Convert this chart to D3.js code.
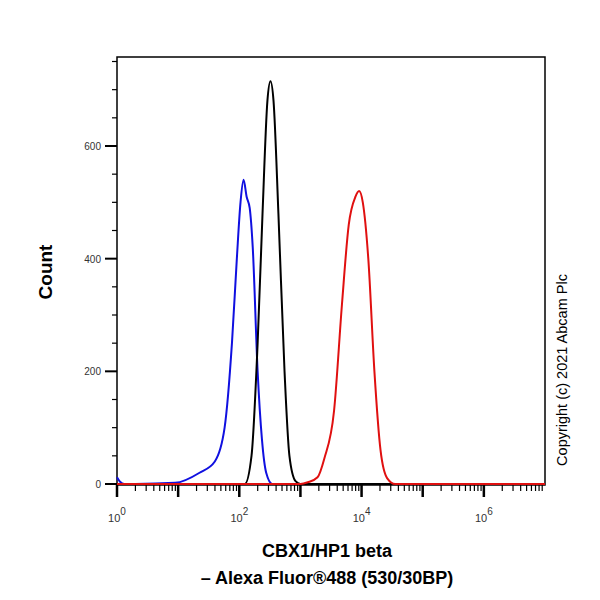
<!DOCTYPE html><html><head><meta charset="utf-8">
<script src="https://cdn.jsdelivr.net/npm/d3@7"></script>
<style>body{margin:0;background:#fff}</style></head><body><svg id="c" width="600" height="600"></svg>
<script>
const yTicks=[0,200,400,600];
const xTickExps=[0,2,4,6];
const blueLog=[0,0.05,0.12,0.3,0.95,1.35,1.6,1.76,1.88,1.96,2.02,2.07,2.12,2.17,2.22,2.3,2.37,2.44,2.54,7];
const blueVal=[12,4,0,0,2,20,40,100,250,400,500,540,510,490,420,200,80,20,0,0];
const blackLog=[0,2.09,2.2,2.3,2.38,2.46,2.51,2.56,2.64,2.74,2.82,2.92,3.0,7];
const blackVal=[0,0,50,250,480,680,715,680,480,200,50,5,0,0];
const redLog=[0,3.0,3.12,3.28,3.39,3.55,3.68,3.79,3.9,3.96,4.02,4.11,4.21,4.31,4.42,4.55,7];
const redVal=[0,0,3,12,45,130,320,460,510,520,500,400,200,60,10,0,0];
const svg=d3.select('#c');
const L=117,R=545,T=57,B=485;
const x=d3.scaleLog().domain([1,1e7]).range([L,R]);
const y=d3.scaleLinear().domain([0,760]).range([484,484-760*338/600]);
svg.append('rect').attr('x',L).attr('y',T).attr('width',R-L).attr('height',B-T).attr('fill','none').attr('stroke','#000').attr('stroke-width',1.5);
const g=svg.append('g');
d3.range(0,751,50).forEach(v=>{const maj=v%200===0;g.append('line').attr('x1',L).attr('x2',L-(maj?12:5)).attr('y1',y(v)).attr('y2',y(v)).attr('stroke','#000').attr('stroke-width',maj?2:1.2);});
yTicks.forEach(v=>g.append('text').attr('x',L-16).attr('y',y(v)+4).attr('text-anchor','end').attr('font-family','Liberation Sans, Arial').attr('font-size',10).attr('fill','#333').text(v));
for(let e=0;e<7;e++){for(let k=1;k<10;k++){const v=k*Math.pow(10,e);const maj=k===1;g.append('line').attr('x1',x(v)).attr('x2',x(v)).attr('y1',B).attr('y2',B+(maj?12:6)).attr('stroke','#000').attr('stroke-width',maj?2.5:1.2);}}
xTickExps.forEach(e=>{const t=g.append('text').attr('x',x(Math.pow(10,e))).attr('y',B+37).attr('text-anchor','middle').attr('font-family','Liberation Sans, Arial').attr('font-size',11).attr('fill','#333');t.append('tspan').text('10');t.append('tspan').attr('dy',-7).attr('font-size',10).text(e);});
const line=d3.line().x(d=>x(Math.pow(10,d[0]))).y(d=>y(d[1])).curve(d3.curveMonotoneX);
const draw=(lg,vals,c)=>svg.append('path').attr('d',line(lg.map((l,i)=>[l,vals[i]]))).attr('fill','none').attr('stroke',c).attr('stroke-width',2);
draw(blueLog,blueVal,'#1010e0');draw(blackLog,blackVal,'#000');draw(redLog,redVal,'#e01010');
svg.append('text').attr('transform','translate(52,272) rotate(-90)').attr('text-anchor','middle').attr('font-family','Liberation Sans, Arial').attr('font-weight','bold').attr('font-size',19).text('Count');
svg.append('text').attr('transform','translate(567,370) rotate(-90)').attr('text-anchor','middle').attr('font-family','Liberation Sans, Arial').attr('font-size',14.5).text('Copyright (c) 2021 Abcam Plc');
svg.append('text').attr('x',327).attr('y',557).attr('text-anchor','middle').attr('font-family','Liberation Sans, Arial').attr('font-weight','bold').attr('font-size',18).text('CBX1/HP1 beta');
svg.append('text').attr('x',327).attr('y',584).attr('text-anchor','middle').attr('font-family','Liberation Sans, Arial').attr('font-weight','bold').attr('font-size',18).text('– Alexa Fluor®488 (530/30BP)');
</script></body></html>
